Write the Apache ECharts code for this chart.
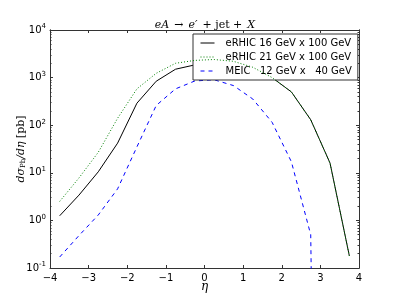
<!DOCTYPE html>
<html>
<head>
<meta charset="utf-8">
<script src="https://cdn.jsdelivr.net/npm/echarts@6/dist/echarts.min.js"></script>
<style>html,body{margin:0;padding:0;background:#fff;}#c{width:399px;height:299px;}</style>
</head>
<body>
<div id="c"></div>
<script>
// eta bin centres
var eta = [-3.75,-3.25,-2.75,-2.25,-1.75,-1.25,-0.75,-0.25,0.25,0.75,1.25,1.75,2.25,2.75,3.25,3.75];
// dsigma/deta [pb]
var eRHIC16 = [1.25,3.4,10.5,42,290,840,1500,1850,1950,1850,1450,1000,500,130,16,0.18];
var eRHIC21 = [2.5,7.8,27,140,580,1230,2000,2300,2400,2200,1650,1000,500,130,16,0.18];
// last MEIC bin is empty (zero); a vanishing value stands in for it on the log axis
var MEIC = [0.17,0.48,1.3,4.6,35,260,580,850,900,680,355,115,17,0.5,1e-30,null];
var seriesNames = ['eRHIC 16 GeV x 100 GeV','eRHIC 21 GeV x 100 GeV','MEIC   12 GeV x   40 GeV'];
var xTicks = [-4,-3,-2,-1,0,1,2,3,4];
var yMajor = [0.1,1,10,100,1000,10000];
var yMinor = [];
for (var d = 0; d < yMajor.length - 1; d++) for (var m = 2; m <= 9; m++) yMinor.push(+(yMajor[d]*m).toPrecision(3));

function pairs(xs, ys){ var o=[]; for (var i=0;i<xs.length;i++) if (ys[i]!==null) o.push([xs[i], ys[i]]); return o; }

var chart = echarts.init(document.getElementById('c'), null, {renderer:'canvas'});
var axisCol = '#333';
var font = 'DejaVu Sans';
var serif = 'DejaVu Serif';
function yAx(pos, labels, ticks, len){
  return {
    type:'log', min:0.1, max:10000, logBase:10, position:pos,
    axisLine:{show:true, onZero:false, lineStyle:{color:axisCol, width:1}},
    splitLine:{show:false},
    axisTick:{show:true, inside:true, length:len, lineStyle:{color:axisCol}, customValues:ticks},
    axisLabel: labels ? {show:true, margin:4, customValues:yMajor,
      formatter:function(v){ var e=Math.round(Math.log10(v)); return '{b|10}{s|'+(e<0?'-'+(-e):e)+'}'; },
      rich:{b:{fontSize:10, fontFamily:font, color:'#000'}, s:{fontSize:7, fontFamily:font, color:'#000', padding:[0,0,7,0]}}
    } : {show:false},
    minorTick:{show:false}
  };
}
var yAxes = [yAx('left', true, yMajor, 3), yAx('left', false, yMinor, 1.5), yAx('right', false, yMajor, 3), yAx('right', false, yMinor, 1.5)];
yAxes[0].name = '{i|d\u03C3}{sub|Pb}{i|/d\u03B7} {r|[pb]}';
yAxes[0].nameLocation = 'middle';
yAxes[0].nameGap = 23;
yAxes[0].nameMoveOverlap = false;
yAxes[0].nameRotate = 90;
yAxes[0].nameTextStyle = {rich:{
  i:{fontFamily:serif, fontStyle:'italic', fontSize:11, color:'#000'},
  sub:{fontFamily:serif, fontSize:7, color:'#000', padding:[5,0,0,0]},
  r:{fontFamily:serif, fontSize:11, color:'#000'}}};

function xAx(pos, labels){
  return {
    type:'value', min:-4, max:4, interval:1, position:pos,
    axisLine:{show:true, onZero:false, lineStyle:{color:axisCol, width:1}},
    splitLine:{show:false},
    axisTick:{show:true, inside:true, length:3, lineStyle:{color:axisCol}},
    axisLabel: labels ? {show:true, margin:5, fontSize:10, fontFamily:font, color:'#000',
      formatter:function(v){ return v<0 ? '\u2212'+(-v) : ''+v; }} : {show:false}
  };
}
var xAxes = [xAx('bottom', true), xAx('top', false)];
xAxes[0].name = '\u03B7';
xAxes[0].nameLocation = 'middle';
xAxes[0].nameGap = 13;
xAxes[0].nameMoveOverlap = false;
xAxes[0].nameTextStyle = {fontFamily:serif, fontStyle:'italic', fontSize:12, color:'#000'};

var option = {
  animation:false,
  backgroundColor:'#fff',
  title:{
    text:'{i|eA} {r|\u2192} {i|e\u2032} {r|+ jet +} {i|X}',
    left:205, top:16, textAlign:'center', padding:0,
    textStyle:{fontWeight:'normal', rich:{
      i:{fontFamily:serif, fontStyle:'italic', fontWeight:'normal', fontSize:11, color:'#000'},
      r:{fontFamily:serif, fontWeight:'normal', fontSize:11, color:'#000'}}}
  },
  grid:{left:50, right:40, top:30, bottom:31, outerBoundsMode:'none', containLabel:false},
  xAxis:xAxes,
  yAxis:yAxes,
  legend:{
    orient:'vertical', left:193, top:34,
    backgroundColor:'#fff', borderColor:'#333', borderWidth:1, borderRadius:0,
    padding:[4,6,4,7], itemWidth:14, itemHeight:10, itemGap:4,
    textStyle:{fontFamily:font, fontSize:10, color:'#000', padding:[0,0,0,6]},
    itemStyle:{opacity:0},
    lineStyle:{width:1},
    data:seriesNames
  },
  series:[
    {name:seriesNames[0], type:'line', data:pairs(eta, eRHIC16), symbol:'none', z:3,
     lineStyle:{color:'#000', width:1, type:'solid'}, itemStyle:{color:'#000'}},
    {name:seriesNames[1], type:'line', data:pairs(eta, eRHIC21), symbol:'none', z:4,
     lineStyle:{color:'#008000', width:1, type:[1,2]}, itemStyle:{color:'#008000'}},
    {name:seriesNames[2], type:'line', data:pairs(eta, MEIC), symbol:'none', z:2,
     lineStyle:{color:'#0000ff', width:1, type:[4,4]}, itemStyle:{color:'#0000ff'}}
  ]
};
chart.setOption(option);
</script>
</body>
</html>
